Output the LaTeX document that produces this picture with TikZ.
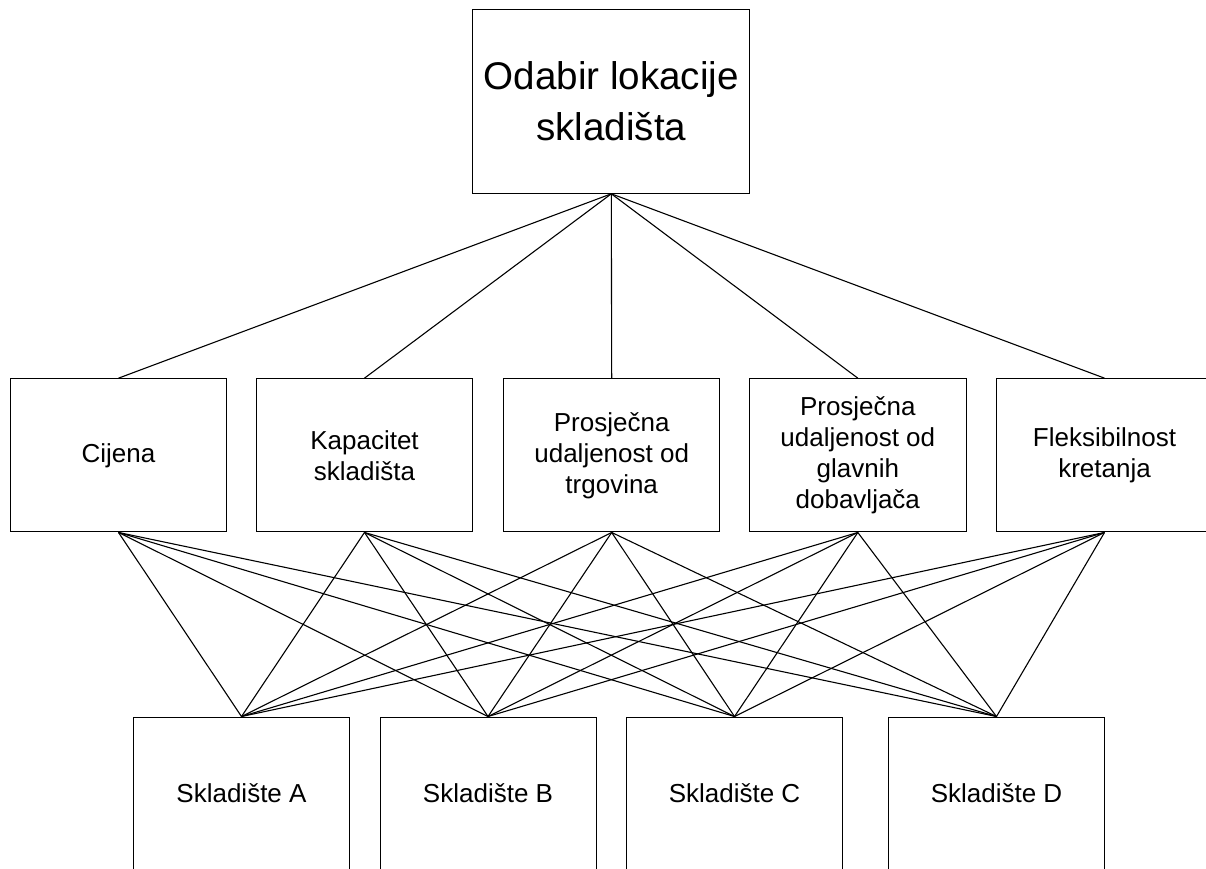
\documentclass[tikz,border=0pt]{standalone}
\usepackage{fontspec}
\setmainfont{Liberation Sans}
\begin{document}
\begin{tikzpicture}[x=1pt,y=-1pt,
  box/.style={draw=black,line width=1pt,inner sep=0pt,align=center,anchor=center},
  topbox/.style={box,minimum width=277.3pt,minimum height=184pt,font=\fontsize{38.6}{51}\selectfont},
  midbox/.style={box,minimum width=216.5pt,minimum height=153.3pt,font=\fontsize{26}{31}\selectfont},
  botbox/.style={box,minimum width=216pt,minimum height=153pt,font=\fontsize{26}{31}\selectfont},
  link/.style={draw=black,line width=1.1pt}]
\useasboundingbox (0,0) rectangle (1206,868);
\fill[white] (0,0) rectangle (1206,868);
\node[topbox] (top) at (611.3,101.3) {Odabir lokacije\\skladišta};
\node[midbox] (m1) at (118.5,455.3) {Cijena};
\node[midbox] (m2) at (364.5,455.3) {Kapacitet\\skladišta};
\node[midbox] (m3) at (611.7,455.3) {Prosječna\\udaljenost od\\trgovina};
\node[midbox] (m4) at (857.8,455.3) {Prosječna\\udaljenost od\\glavnih\\dobavljača};
\node[midbox] (m5) at (1104.5,455.3) {Fleksibilnost\\kretanja};
\node[botbox] (b1) at (241.5,793.5) {Skladište A};
\node[botbox] (b2) at (488,793.5) {Skladište B};
\node[botbox] (b3) at (734.5,793.5) {Skladište C};
\node[botbox] (b4) at (996.5,793.5) {Skladište D};
\foreach \m in {m1,m2,m3,m4,m5} {
  \draw[link] (top.south) -- (\m.north);
  \foreach \b in {b1,b2,b3,b4} {
    \draw[link] (\m.south) -- (\b.north);
  }
}
\end{tikzpicture}
\end{document}
